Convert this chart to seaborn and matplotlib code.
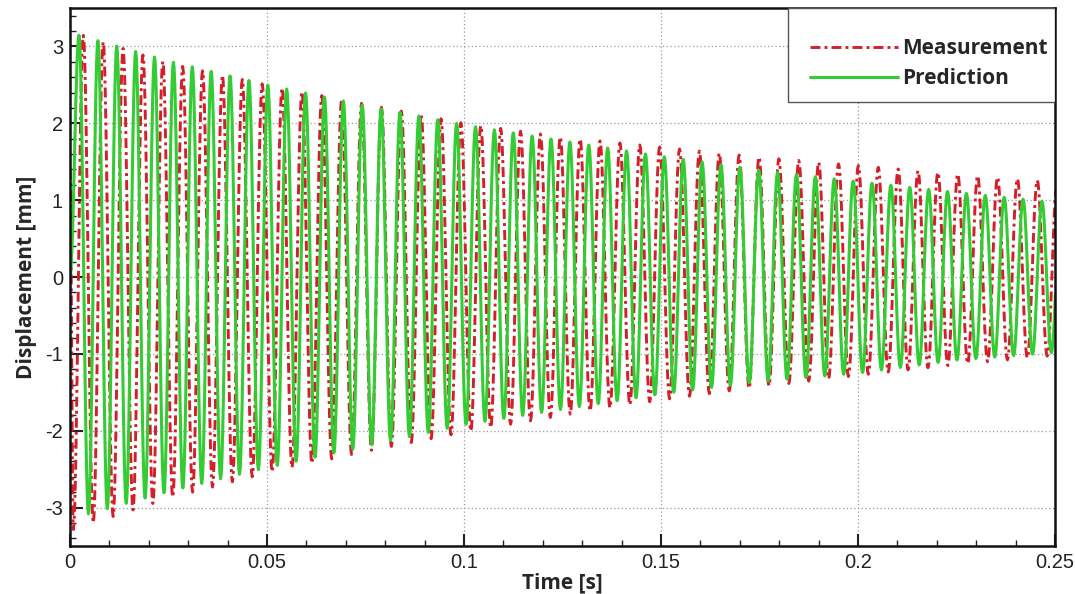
import numpy as np
import pandas as pd
import matplotlib
matplotlib.use("Agg")
import matplotlib.pyplot as plt
import seaborn as sns
from matplotlib.ticker import MultipleLocator
from matplotlib.patches import Rectangle

# envelope of the oscillation, every 0.025 s
env_time = [0.0, 0.025, 0.05, 0.075, 0.1, 0.125, 0.15, 0.175, 0.2, 0.225, 0.25]
meas_upper = [3.20, 2.78, 2.50, 2.25, 2.00, 1.82, 1.69, 1.56, 1.45, 1.34, 1.24]
meas_lower = [-3.30, -2.88, -2.55, -2.27, -2.02, -1.80, -1.60, -1.43, -1.28, -1.14, -1.02]
pred_upper = [3.18, 2.81, 2.50, 2.23, 1.98, 1.77, 1.57, 1.39, 1.24, 1.10, 0.97]
pred_lower = [-3.15, -2.79, -2.48, -2.20, -1.92, -1.72, -1.52, -1.36, -1.25, -1.08, -0.98]

# timing: value at t=0, first extreme, half period
meas_start, meas_first, meas_half = 1.4, 0.00086, 0.002522   # first extreme = trough
pred_start, pred_first, pred_half = 0.0, 0.00229, 0.002396   # first extreme = peak


def trace(start, first, half, upper, lower, peak_first):
    tk = np.arange(first, 0.25 + 2 * half, half)
    up = (np.arange(len(tk)) % 2 == 0) == peak_first
    vk = np.where(up, np.interp(tk, env_time, upper), np.interp(tk, env_time, lower))
    tk = np.r_[0.0, tk]
    vk = np.r_[start, vk]
    s = np.linspace(0, 1, 14, endpoint=False)
    t, y = [], []
    for i in range(len(tk) - 1):
        t.append(tk[i] + s * (tk[i + 1] - tk[i]))
        y.append(vk[i] + (vk[i + 1] - vk[i]) * (1 - np.cos(np.pi * s)) / 2)
    return np.concatenate(t), np.concatenate(y)


tm, ym = trace(meas_start, meas_first, meas_half, meas_upper, meas_lower, False)
tp, yp = trace(pred_start, pred_first, pred_half, pred_upper, pred_lower, True)
df_m = pd.DataFrame({"Time": tm, "Displacement": ym})
df_p = pd.DataFrame({"Time": tp, "Displacement": yp})

sns.set_style("white")
plt.rcParams["axes.unicode_minus"] = False

fig = plt.figure(figsize=(10.75, 5.94), dpi=100)
ax = fig.add_axes([0.0651, 0.0808, 0.9163, 0.9057])

sns.lineplot(data=df_m, x="Time", y="Displacement", color="#d41f2a", lw=2.1,
             linestyle=(0, (3.4, 1.4, 1.0, 1.4)), sort=False, estimator=None,
             ax=ax, label="Measurement")
sns.lineplot(data=df_p, x="Time", y="Displacement", color="#33cc33", lw=2.2,
             sort=False, estimator=None, ax=ax, label="Prediction")

ax.set_xlim(0, 0.25)
ax.set_ylim(-3.5, 3.5)
ax.xaxis.set_major_locator(MultipleLocator(0.05))
ax.xaxis.set_minor_locator(MultipleLocator(0.01))
ax.yaxis.set_major_locator(MultipleLocator(1))
ax.yaxis.set_minor_locator(MultipleLocator(0.2))
ax.xaxis.set_major_formatter(plt.FuncFormatter(lambda v, p: f"{v:g}"))
ax.yaxis.set_major_formatter(plt.FuncFormatter(lambda v, p: f"{v:g}"))

ax.grid(True, which="major", color="#9a9a9a", linestyle=(0, (1, 2)), lw=0.9)
ax.tick_params(which="both", direction="in", left=True, bottom=True, right=False, top=False,
               colors="#222222", width=1.5)
ax.tick_params(which="major", length=9, labelsize=14.5, pad=5)
ax.tick_params(which="minor", length=4.5, width=1.0)
for lab in ax.get_xticklabels() + ax.get_yticklabels():
    lab.set_family("Liberation Sans")
for sp in ax.spines.values():
    sp.set_color("#111111")
    sp.set_linewidth(1.8)

ax.set_xlabel("Time [s]", family="Open Sans", fontweight="bold", fontsize=15, labelpad=0)
ax.set_ylabel("Displacement [mm]", family="Open Sans", fontweight="bold", fontsize=15, labelpad=6)

# legend box drawn on its own so the rows can sit where they do in the original
ax.add_patch(Rectangle((0.729, 0.8253), 0.271, 0.1747, transform=ax.transAxes,
                       facecolor="white", edgecolor="#555555", lw=1.0, zorder=5))
leg = ax.legend(loc="upper left", bbox_to_anchor=(0.7513, 0.944), borderaxespad=0,
                frameon=False, handlelength=4.2, handletextpad=0.2, borderpad=0,
                labelspacing=0.43,
                prop={"family": "Open Sans", "weight": "bold", "size": 15})
leg.set_zorder(6)

fig.savefig("out.png", dpi=100)
